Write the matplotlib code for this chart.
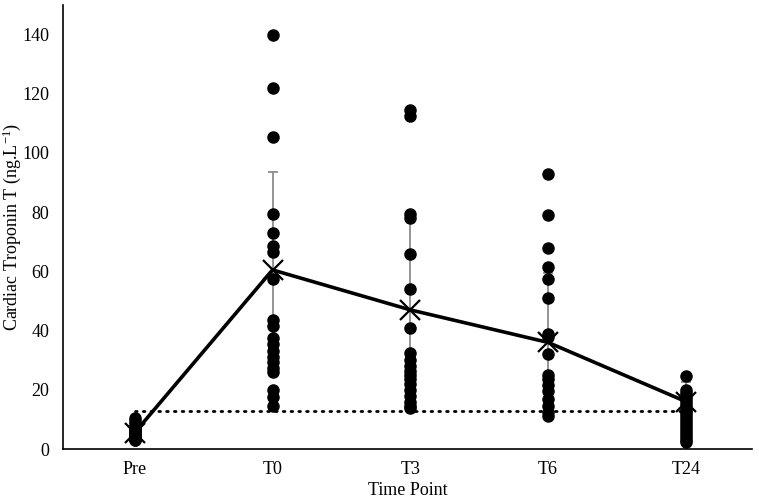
import numpy as np
import matplotlib
matplotlib.use('Agg')
import matplotlib.pyplot as plt

plt.rcParams['font.family'] = ['Liberation Serif', 'DejaVu Serif']
plt.rcParams['mathtext.fontset'] = 'custom'
plt.rcParams['mathtext.rm'] = 'Liberation Serif'
plt.rcParams['mathtext.default'] = 'rm'

# Time points and individual cTnT values (ng/L)
time_points = ['Pre', 'T0', 'T3', 'T6', 'T24']
pre = [10.5, 9.5, 8.5, 7.5, 6.8, 6, 5.5, 5, 4.5, 4, 3.5, 3, 3.2, 4.2, 5.2, 6.3]
t0 = [140, 122, 105.5, 79.5, 73, 68.5, 66.5, 57.5, 43.5, 41.5, 37.5, 35.5,
      33, 31, 29.5, 27.5, 26, 20, 17.5, 14.5]
t3 = [114.5, 112.5, 79.5, 78, 66, 54, 41, 32.5, 30, 28, 26.5, 25, 23.5, 22,
      20, 18, 16, 14.5, 14]
t6 = [93, 79, 68, 61.5, 57.5, 51, 39, 38, 32, 25, 23.5, 21.5, 19.5, 17,
      14.5, 12.5, 11]
t24 = [24.5, 20, 19, 18, 17, 16, 15, 14, 13, 12, 11, 10, 9, 8, 7, 6, 5, 4,
       3, 2.5]
# group means and SD
means = [5.5, 60.5, 47, 36, 16]
sds = [2.5, 33, 30, 23.5, 6.5]
# reference limit
url = 12.7

groups = [pre, t0, t3, t6, t24]
x = np.arange(len(time_points))

fig = plt.figure(figsize=(7.59, 5.0), dpi=100)
ax = fig.add_axes([0.083, 0.102, 0.908, 0.888])

ax.errorbar(x, means, yerr=sds, fmt='none', ecolor='#8c8c8c', elinewidth=1.3,
            capsize=3.5, capthick=1.3, zorder=2)
for i, vals in enumerate(groups):
    ax.plot([x[i]] * len(vals), vals, 'o', color='black', markersize=8,
            zorder=3)
ax.plot(x, means, color='black', lw=2.6, marker='x', markersize=14,
        mew=1.6, zorder=4)
ax.plot([x[0], x[-1]], [url, url], color='black', lw=2,
        linestyle=(0, (0.6, 2.2)), dash_capstyle='round', zorder=1)

ax.set_xlim(-0.52, 4.48)
ax.set_ylim(0, 150)
ax.set_yticks(np.arange(0, 141, 20))
ax.set_xticks(x)
ax.set_xticklabels(time_points)
ax.tick_params(axis='both', length=0, labelsize=13)
ax.tick_params(axis='x', pad=9)
ax.tick_params(axis='y', pad=10)
for s in ['top', 'right']:
    ax.spines[s].set_visible(False)
ax.spines['left'].set_linewidth(1.2)
ax.spines['bottom'].set_linewidth(1.2)
ax.set_xlabel('Time Point', fontsize=13)
ax.set_ylabel('Cardiac Troponin T (ng.L$^{-1}$)', fontsize=13)
ax.xaxis.set_label_coords(0.5, -0.075)
ax.yaxis.set_label_coords(-0.058, 0.5)

fig.savefig('out.png', dpi=100)
